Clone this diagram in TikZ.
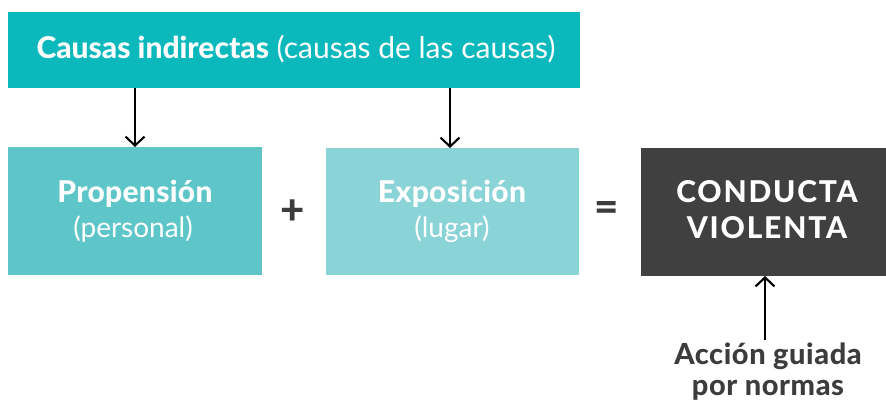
\documentclass[tikz,border=0pt]{standalone}
\usepackage{fontspec}
\setmainfont{Lato}[BoldFont={Lato Heavy}]
\usetikzlibrary{arrows.meta}
\definecolor{topteal}{HTML}{0BB9BD}
\definecolor{midteal}{HTML}{5EC6C8}
\definecolor{lightteal}{HTML}{8AD3D6}
\definecolor{darkbox}{HTML}{404040}
\definecolor{darktext}{HTML}{3C3C3C}
\begin{document}
\begin{tikzpicture}[x=1pt,y=-1pt,
  box/.style={draw=none,inner sep=0pt,outer sep=0pt,anchor=north west},
  lbl/.style={text=white,inner sep=0pt,anchor=base},
  dlbl/.style={text=darktext,inner sep=0pt,anchor=base},
  conn/.style={line width=2.1pt,-{Straight Barb[length=9pt,width=19pt,line width=2.1pt]}}]
\useasboundingbox (0,0) rectangle (886,406);
\node[box,fill=topteal,minimum width=572pt,minimum height=76pt] (top) at (8,12) {};
\node[box,fill=midteal,minimum width=254pt,minimum height=128pt] (prop) at (8,147) {};
\node[box,fill=lightteal,minimum width=253pt,minimum height=127pt] (expo) at (326,148) {};
\node[box,fill=darkbox,minimum width=245pt,minimum height=128pt] (cond) at (641,148) {};
\node[lbl,font=\fontsize{30}{30}\selectfont] (toptxt) at (296,59) {\textbf{Causas indirectas} (causas de las causas)};
\node[lbl,font=\fontsize{30}{30}\selectfont\bfseries\addfontfeature{LetterSpace=1}] (proptxt) at (135,203) {Propensión};
\node[lbl,font=\fontsize{28}{30}\selectfont] (proptxtb) at (133,237) {(personal)};
\node[lbl,font=\fontsize{30}{30}\selectfont\bfseries\addfontfeature{LetterSpace=1}] (expotxt) at (452,203) {Exposición};
\node[lbl,font=\fontsize{28}{30}\selectfont] (expotxtb) at (452,237) {(lugar)};
\node[lbl,font=\fontsize{30}{30}\selectfont\bfseries\addfontfeature{LetterSpace=6}] (condtxt) at (767,203) {CONDUCTA};
\node[lbl,font=\fontsize{30}{30}\selectfont\bfseries\addfontfeature{LetterSpace=6}] (condtxtb) at (767,239) {VIOLENTA};
\node[text=darktext,font=\fontsize{42}{42}\selectfont\bfseries,inner sep=0pt] (plus) at (293,212) {+};
\node[text=darktext,font=\fontsize{42}{42}\selectfont\bfseries,inner sep=0pt] (eq) at (607,212) {=};
\node[dlbl,font=\fontsize{29}{30}\selectfont\bfseries\addfontfeature{LetterSpace=2}] (accion) at (768,364) {Acción guiada};
\node[dlbl,font=\fontsize{29}{30}\selectfont\bfseries\addfontfeature{LetterSpace=2}] (accionb) at (768,395) {por normas};
\coordinate (a1s) at (135,88);
\coordinate (a2s) at (450,88);
\coordinate (a3s) at (765,340);
\draw[conn] (a1s) -- (a1s |- prop.north);
\draw[conn] (a2s) -- (a2s |- expo.north);
\draw[conn] (a3s) -- (a3s |- cond.south);
\end{tikzpicture}
\end{document}
